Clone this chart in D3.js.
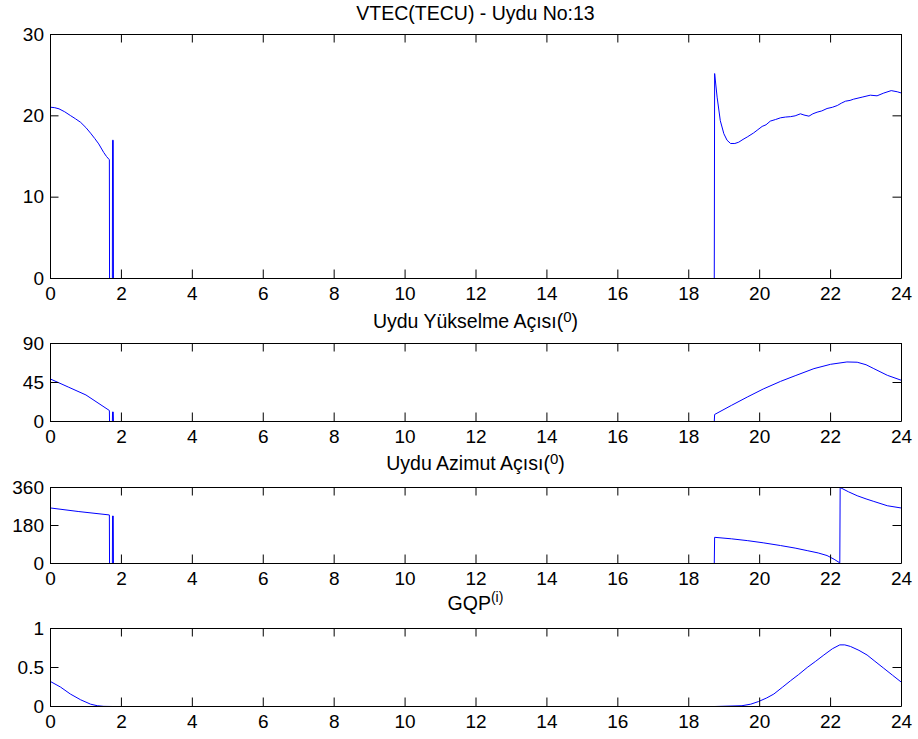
<!DOCTYPE html>
<html>
<head>
<meta charset="utf-8">
<script src="https://cdn.jsdelivr.net/npm/d3@7"></script>
<style>
  html, body { margin: 0; padding: 0; background: #fff; }
  svg { display: block; font-family: "Liberation Sans", Arial, sans-serif; }
</style>
</head>
<body>
<svg id="chart" width="918" height="739"></svg>
<script>
// Hour-of-day ticks shared by every panel
const hourTicks = [0, 2, 4, 6, 8, 10, 12, 14, 16, 18, 20, 22, 24];

// VTEC (TECU) for satellite 13, [hour, value]
const vtecSeries = [
  [0, 21.06], [0.12, 21.0], [0.24, 20.86], [0.4, 20.5], [0.56, 20.04], [0.7, 19.65],
  [0.85, 19.2], [1.0, 18.55], [1.13, 17.87], [1.25, 17.2], [1.36, 16.55], [1.5, 15.5],
  [1.58, 15.0], [1.66, 14.6], [1.665, 0], [1.745, 0], [1.75, 17], [1.77, 17], [1.775, 0],
  [18.72, 0], [18.73, 25.2], [18.80, 22.3], [18.89, 19.4], [18.99, 17.8], [19.08, 17.0],
  [19.18, 16.6], [19.3, 16.6], [19.41, 16.76], [19.53, 17.1], [19.65, 17.4], [19.83, 17.9],
  [19.95, 18.3], [20.07, 18.7], [20.18, 18.9], [20.30, 19.35], [20.45, 19.55], [20.59, 19.76],
  [20.73, 19.85], [20.87, 19.9], [21.0, 20.0], [21.15, 20.25], [21.25, 20.1], [21.39, 19.96],
  [21.5, 20.25], [21.62, 20.45], [21.75, 20.6], [21.9, 20.9], [22.05, 21.05], [22.19, 21.27],
  [22.3, 21.55], [22.42, 21.8], [22.55, 21.9], [22.65, 22.05], [22.89, 22.3], [23.12, 22.54],
  [23.31, 22.46], [23.5, 22.8], [23.71, 23.1], [23.88, 22.96], [24, 22.8]
];

// Satellite elevation angle (degrees)
const elevationSeries = [
  [0, 49], [0.5, 39.8], [1.0, 30.6], [1.66, 12.7], [1.665, 0], [1.745, 0], [1.75, 11], [1.77, 11],
  [1.775, 0], [18.72, 0], [18.73, 8.1], [19.2, 18.5], [19.65, 28.2], [20.1, 37.5], [20.59, 46.3],
  [21.0, 52.8], [21.53, 61], [22.0, 66], [22.46, 68.7], [22.75, 68.4], [23.0, 65.5], [23.22, 61],
  [23.6, 53.3], [24, 47.5]
];

// Satellite azimuth angle (degrees)
const azimuthSeries = [
  [0, 263], [0.8, 246], [1.66, 230], [1.665, 0], [1.745, 0], [1.75, 225], [1.77, 225], [1.775, 0],
  [18.72, 0], [18.73, 124], [19.2, 117], [19.65, 108.5], [20.1, 98], [20.59, 85], [21.0, 73],
  [21.34, 61], [21.65, 50], [21.9, 37.7], [22.1, 20], [22.26, 3], [22.27, 360], [22.5, 340],
  [22.75, 321], [23.0, 306], [23.22, 294], [23.6, 273.6], [24, 262.7]
];

// GQP(i) weight
const gqpSeries = [
  [0, 0.32], [0.28, 0.25], [0.56, 0.16], [0.85, 0.086], [1.13, 0.03], [1.32, 0.01], [1.5, 0.002],
  [1.76, 0], [18.73, 0], [19.5, 0.01], [19.75, 0.03], [19.97, 0.064], [20.2, 0.11], [20.4, 0.16],
  [20.65, 0.25], [20.87, 0.33], [21.1, 0.41], [21.34, 0.5], [21.58, 0.58], [21.81, 0.66],
  [22.05, 0.74], [22.26, 0.79], [22.4, 0.79], [22.56, 0.77], [22.8, 0.72], [23.03, 0.66],
  [23.25, 0.58], [23.5, 0.49], [23.75, 0.4], [24, 0.31]
];

// Y-axis ticks per panel
const vtecTicks = [0, 10, 20, 30];
const elevationTicks = [0, 45, 90];
const azimuthTicks = [0, 180, 360];
const gqpTicks = [0, 0.5, 1];

const svg = d3.select("#chart");
const left = 50, right = 901;
const tickLen = 8.5;
const tickFont = "19px";
const titleFont = "19.5px";

const x = d3.scaleLinear().domain([0, 24]).range([left, right]);

const panels = [
  { data: vtecSeries, ticks: vtecTicks, top: 34, bottom: 278,
    title: [{ t: "VTEC(TECU) - Uydu No:13" }], titleY: 19.5 },
  { data: elevationSeries, ticks: elevationTicks, top: 343, bottom: 421,
    title: [{ t: "Uydu Yükselme Açısı(" }, { t: "0", sup: true }, { t: ")" }], titleY: 327.5 },
  { data: azimuthSeries, ticks: azimuthTicks, top: 487, bottom: 563,
    title: [{ t: "Uydu Azimut Açısı(" }, { t: "0", sup: true }, { t: ")" }], titleY: 470 },
  { data: gqpSeries, ticks: gqpTicks, top: 628, bottom: 706,
    title: [{ t: "GQP" }, { t: "(i)", sup: true, small: true }], titleY: 610 }
];

const fmt = d => String(d);

panels.forEach(p => {
  const ext = d3.extent(p.ticks);
  const y = d3.scaleLinear().domain(ext).range([p.bottom, p.top]);
  const g = svg.append("g");

  // data line, offset half a pixel like the axis so the zero stretch hides under the box
  const line = d3.line().x(d => x(d[0])).y(d => y(d[1]));
  g.append("path")
    .datum(p.data)
    .attr("transform", "translate(0.5,0.5)")
    .attr("d", line)
    .attr("fill", "none")
    .attr("stroke", "#0000ff")
    .attr("stroke-width", 1);

  // axes: ticks inward on all four sides
  const styleAxis = sel => {
    sel.selectAll("path.domain").attr("stroke", "#000");
    sel.selectAll(".tick line").attr("stroke", "#000");
    sel.selectAll(".tick text").attr("fill", "#000")
      .style("font-size", tickFont)
      .style("font-family", '"Liberation Sans", Arial, sans-serif');
  };

  g.append("g")
    .attr("transform", `translate(0,${p.bottom})`)
    .call(d3.axisBottom(x).tickValues(hourTicks).tickFormat(fmt)
      .tickSizeInner(-tickLen).tickSizeOuter(0).tickPadding(9))
    .call(styleAxis);

  g.append("g")
    .attr("transform", `translate(0,${p.top})`)
    .call(d3.axisTop(x).tickValues(hourTicks).tickFormat("")
      .tickSizeInner(-tickLen).tickSizeOuter(0))
    .call(styleAxis);

  g.append("g")
    .attr("transform", `translate(${left},0)`)
    .call(d3.axisLeft(y).tickValues(p.ticks).tickFormat(fmt)
      .tickSizeInner(-tickLen).tickSizeOuter(0).tickPadding(6))
    .call(styleAxis);

  g.append("g")
    .attr("transform", `translate(${right},0)`)
    .call(d3.axisRight(y).tickValues(p.ticks).tickFormat("")
      .tickSizeInner(-tickLen).tickSizeOuter(0))
    .call(styleAxis);

  // title with optional superscript
  const title = g.append("text")
    .attr("x", (left + right) / 2)
    .attr("y", p.titleY)
    .attr("text-anchor", "middle")
    .style("font-size", titleFont)
    .attr("fill", "#000");
  let raised = 0;
  p.title.forEach(part => {
    const ts = title.append("tspan").text(part.t);
    if (part.sup) {
      const shift = part.small ? 8 : 6;
      ts.attr("dy", -shift).style("font-size", part.small ? "14px" : "15px");
      raised = shift;
    } else if (raised) {
      ts.attr("dy", raised);
      raised = 0;
    }
  });
});
</script>
</body>
</html>
